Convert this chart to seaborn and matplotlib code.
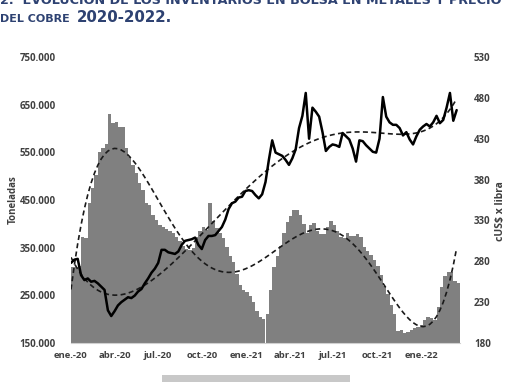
import numpy as np
import pandas as pd
import matplotlib
matplotlib.use("Agg")
import matplotlib.pyplot as plt
import matplotlib.dates as mdates
from matplotlib.patches import Rectangle
from matplotlib.ticker import FuncFormatter, FixedLocator
import seaborn as sns

# ---------------- data (weekly, from 2020-01-01) ----------------
start_date = "2020-01-01"
n_weeks = 116

inventario_t = [
    309000, 309000, 312000, 372000, 370000, 444000, 475000, 503000, 550000, 560000,
    568000, 630000, 612000, 613000, 603000, 603000, 559000, 540000, 523000, 507000,
    486000, 471000, 444000, 440000, 418000, 408000, 398000, 393000, 390000, 386000,
    381000, 372000, 363000, 353000, 348000, 345000, 350000, 372000, 386000, 393000,
    388000, 444000, 405000, 392000, 380000, 370000, 352000, 332000, 320000, 295000,
    272000, 261000, 257000, 248000, 235000, 218000, 204000, 201000, 210000, 261000,
    310000, 332000, 354000, 380000, 403000, 416000, 428000, 430000, 418000, 400000,
    381000, 397000, 402000, 386000, 379000, 378000, 393000, 406000, 397000, 385000,
    372000, 370000, 380000, 374000, 374000, 379000, 372000, 352000, 344000, 335000,
    325000, 311000, 292000, 270000, 253000, 230000, 210000, 175000, 178000, 172000,
    174000, 178000, 182000, 183000, 188000, 198000, 204000, 202000, 199000, 225000,
    268000, 290000, 300000, 298000, 280000, 276000,
]

precio_cobre = [
    278, 282, 283, 263, 257, 259, 255, 256, 253, 249,
    245, 220, 213, 219, 226, 230, 233, 236, 235, 238,
    243, 246, 253, 259, 266, 271, 278, 294, 294, 291,
    290, 289, 292, 300, 305, 306, 307, 309, 300, 295,
    306, 311, 311, 312, 317, 322, 331, 344, 351, 353,
    358, 359, 366, 367, 366, 361, 357, 362, 377, 404,
    428, 413, 411, 409, 404, 398, 406, 417, 443, 458,
    486, 430, 468, 463, 457, 438, 415, 420, 423, 422,
    420, 437, 433, 429, 418, 402, 428, 427, 422, 418,
    414, 413, 430, 481, 457, 450, 447, 447, 443, 434,
    438, 429, 423, 433, 441, 445, 448, 445, 450, 458,
    449, 453, 468, 486, 452, 465,
]

tick_dates = ["2020-01-01", "2020-04-01", "2020-07-01", "2020-10-01", "2021-01-01",
              "2021-04-01", "2021-07-01", "2021-10-01", "2022-01-01"]
tick_labels = ["ene.-20", "abr.-20", "jul.-20", "oct.-20", "ene.-21",
               "abr.-21", "jul.-21", "oct.-21", "ene.-22"]

left_ticks = [150000, 250000, 350000, 450000, 550000, 650000, 750000]
right_ticks = [180, 230, 280, 330, 380, 430, 480, 530]

title_line1 = "2.  EVOLUCIÓN DE LOS INVENTARIOS EN BOLSA EN METALES Y PRECIO"
title_a = "DEL COBRE"
title_b = "2020-2022."
ylabel_left = "Toneladas"
ylabel_right = "cUS$ x libra"

# ---------------- frame ----------------
fechas = pd.date_range(start_date, periods=n_weeks, freq="7D")
df = pd.DataFrame({"fecha": fechas, "inventario": inventario_t, "precio": precio_cobre})

# polynomial (order 6) trend lines, like the spreadsheet trendlines
dias = (df["fecha"] - df["fecha"].iloc[0]).dt.days.to_numpy(dtype=float)
z = (dias - dias.mean()) / dias.std()
df["tend_inv"] = np.polyval(np.polyfit(z, df["inventario"], 6), z)
df["tend_pre"] = np.polyval(np.polyfit(z, df["precio"], 6), z)

sns.set_theme(style="white")
plt.rcParams["font.family"] = ["Open Sans", "DejaVu Sans"]

W, H = 510, 382
fig = plt.figure(figsize=(W / 100, H / 100), dpi=100)
ax = fig.add_axes([71 / W, 1 - 343 / H, (460 - 71) / W, (343 - 57) / H])
ax2 = ax.twinx()

txt_col = "#404040"

# inventories as touching bars
ax.bar(df["fecha"], df["inventario"], width=7, align="edge", color="#808080",
       edgecolor="none", linewidth=0, zorder=1)
sns.lineplot(data=df, x="fecha", y="tend_inv", ax=ax, color="#1a1a1a",
             linewidth=1.2, linestyle=(0, (3, 2)), zorder=3)

# price
sns.lineplot(data=df, x="fecha", y="precio", ax=ax2, color="black",
             linewidth=1.8, zorder=4)
sns.lineplot(data=df, x="fecha", y="tend_pre", ax=ax2, color="#1a1a1a",
             linewidth=1.2, linestyle=(0, (3, 2)), zorder=3)

x0 = pd.Timestamp(start_date)
ax.set_xlim(x0, x0 + pd.Timedelta(days=812))
ax.set_ylim(150000, 750000)
ax2.set_ylim(180, 530)

ax.xaxis.set_major_locator(FixedLocator(mdates.date2num(pd.to_datetime(tick_dates))))
ax.set_xticklabels(tick_labels)
ax.yaxis.set_major_locator(FixedLocator(left_ticks))
ax.yaxis.set_major_formatter(FuncFormatter(lambda v, p: f"{int(v):,}".replace(",", ".")))
ax2.yaxis.set_major_locator(FixedLocator(right_ticks))

for a in (ax, ax2):
    for s in a.spines.values():
        s.set_visible(False)
    a.grid(False)
    a.set_xlabel("")
ax.spines["bottom"].set_visible(True)
ax.spines["bottom"].set_color("#d0d0d0")
ax.spines["bottom"].set_linewidth(0.8)

ax.tick_params(axis="x", length=0, pad=6, labelsize=6.8, labelcolor=txt_col)
ax.tick_params(axis="y", length=0, pad=11, labelsize=7, labelcolor=txt_col)
ax2.tick_params(axis="y", length=0, pad=10, labelsize=7, labelcolor=txt_col)
for lab in ax.get_xticklabels() + ax.get_yticklabels() + ax2.get_yticklabels():
    lab.set_fontweight("bold")

ax.set_ylabel(ylabel_left, fontsize=7, fontweight="bold", color=txt_col)
ax2.set_ylabel(ylabel_right, fontsize=7.5, fontweight="bold", color=txt_col)
ax.yaxis.set_label_coords(-0.135, 0.5)
ax2.yaxis.set_label_coords(1.09, 0.46)

# title (first line partly cut at the top of the image, as in the source page)
title_col = "#2E4272"
fig.text(0, 1 - 4 / H, title_line1, fontsize=9.2, fontweight="bold", color=title_col,
         ha="left", va="baseline", family=["DejaVu Sans"])
fig.text(0, 1 - 22 / H, title_a, fontsize=8, fontweight="bold", color=title_col,
         ha="left", va="baseline", family=["DejaVu Sans"])
fig.text(77 / W, 1 - 22 / H, title_b, fontsize=10.8, fontweight="bold", color=title_col,
         ha="left", va="baseline", family=["DejaVu Sans"])

# legend box cut at the bottom
fig.patches.append(Rectangle((162 / W, 0), (350 - 162) / W, 7 / H,
                             transform=fig.transFigure, facecolor="#c8c8c8",
                             edgecolor="none"))

fig.savefig("out.png", dpi=100)
